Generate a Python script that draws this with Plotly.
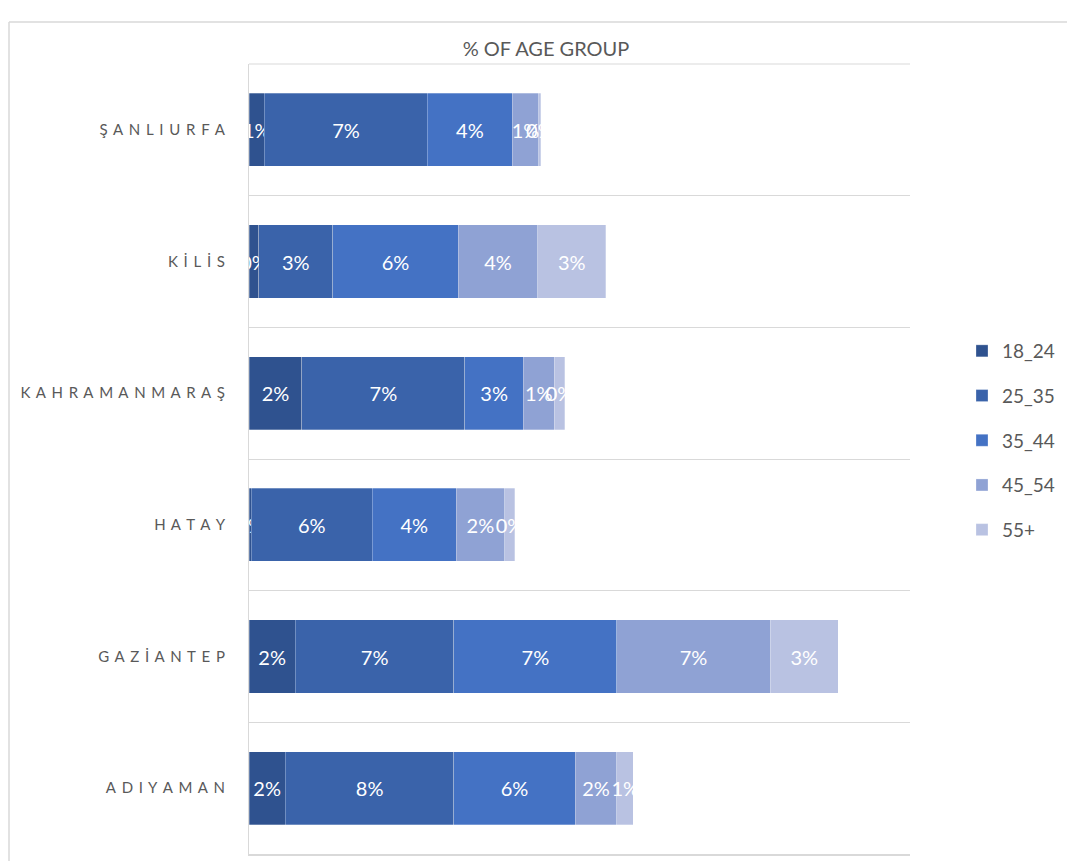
import plotly.graph_objects as go

# Provinces (bottom to top) and age-group shares in percent
provinces = ["ADIYAMAN", "GAZİANTEP", "HATAY", "KAHRAMANMARAŞ", "KİLİS", "ŞANLIURFA"]
age_groups = ["18_24", "25_35", "35_44", "45_54", "55+"]

share_18_24 = [1.65, 2.1, 0.1, 2.4, 0.45, 0.7]
share_25_35 = [7.65, 7.2, 5.5, 7.4, 3.35, 7.4]
share_35_44 = [5.5, 7.4, 3.8, 2.65, 5.7, 3.85]
share_45_54 = [1.9, 6.95, 2.2, 1.4, 3.6, 1.2]
share_55_plus = [0.75, 3.1, 0.45, 0.48, 3.1, 0.1]

series = [share_18_24, share_25_35, share_35_44, share_45_54, share_55_plus]
colors = ["#2F528F", "#3A63AA", "#4472C4", "#8FA2D4", "#B9C2E2"]

# figure size and plot area in pixels
W, H = 1067, 861
L, R, T, B = 249, 910, 64, 854
PW, PH = R - L, B - T


def px_x(x):
    return (x - L) / PW


def px_y(y):
    return (B - y) / PH


def spaced(word):
    return "\u2009 ".join(word)


fig = go.Figure()
for name, vals, col in zip(age_groups, series, colors):
    fig.add_trace(go.Bar(
        y=provinces,
        x=vals,
        name=name,
        legendgroup=name,
        orientation="h",
        marker=dict(color=col, line=dict(color="rgba(255,255,255,0.35)", width=0.8)),
        text=[f"{v:.0f}%" for v in vals],
        textposition="inside",
        insidetextanchor="middle",
        textangle=0,
        constraintext="none",
        textfont=dict(family="Lato", size=20, color="white"),
        cliponaxis=True,
    ))

fig.update_layout(
    barmode="stack",
    bargap=0.445,
    width=W,
    height=H,
    plot_bgcolor="white",
    paper_bgcolor="white",
    margin=dict(l=L, r=W - R, t=T, b=H - B, autoexpand=False),
    font=dict(family="Lato", color="#595959"),
    showlegend=True,
    legend=dict(
        x=px_x(962), y=px_y(332), xanchor="left", yanchor="top",
        font=dict(family="Lato", size=19, color="#595959"),
        traceorder="grouped",
        itemwidth=30,
        tracegroupgap=17,
    ),
    title=dict(
        text="% OF AGE GROUP",
        x=546 / W, xref="container", xanchor="center",
        y=1 - 56 / H, yref="container", yanchor="bottom",
        font=dict(family="Lato", size=20, color="#595959"),
    ),
)

fig.update_xaxes(
    range=[0, 30],
    showticklabels=False,
    showgrid=False,
    zeroline=False,
    showline=True,
    linecolor="#D9D9D9",
    linewidth=2,
    ticks="",
)
fig.update_yaxes(
    categoryorder="array",
    categoryarray=provinces,
    tickvals=provinces,
    ticktext=[spaced(p) for p in provinces],
    tickfont=dict(family="Lato", size=15, color="#595959"),
    tickson="boundaries",
    ticks="",
    showgrid=True,
    gridcolor="#D9D9D9",
    gridwidth=1,
    showline=True,
    linecolor="#D9D9D9",
    linewidth=1,
    ticklabelstandoff=20,
)

# top edge of the plot area
fig.add_shape(type="line", xref="paper", yref="paper",
              x0=0, x1=1, y0=1, y1=1,
              line=dict(color="#D9D9D9", width=1))

# Outer chart frame
fig.add_shape(type="line", xref="paper", yref="paper",
              x0=px_x(9), x1=px_x(1070), y0=px_y(22), y1=px_y(22),
              line=dict(color="#D9D9D9", width=1.5))
fig.add_shape(type="line", xref="paper", yref="paper",
              x0=px_x(9), x1=px_x(9), y0=px_y(22), y1=px_y(870),
              line=dict(color="#D9D9D9", width=1.5))

fig.write_html("out.html")
